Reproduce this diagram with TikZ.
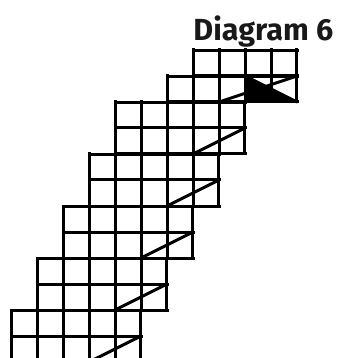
\documentclass[tikz,border=0pt]{standalone}
\usepackage{fontspec}
\setsansfont{Fira Sans}
\usepackage{tikz}
\tikzset{
  cellgrid/.style={draw=black, line width=3pt, line cap=rect, step=26pt},
  cutline/.style={draw=black, line width=3pt, line cap=round},
  ttl/.style={font=\sffamily\bfseries\fontsize{30.5}{30.5}\selectfont,
    inner sep=0pt, text=black!90}
}

\begin{document}
\begin{tikzpicture}[x=26pt, y=-26pt]

\useasboundingbox (-0.4231,-1.9231) rectangle (12.5385,11.8462);
\clip (-0.4231,-1.9231) rectangle (12.5385,11.8462);

% ─────────────────────────────────────────────────────────────────────────────
%  TITLE
% ─────────────────────────────────────────────────────────────────────────────
\node[ttl, anchor=base east] (title) at (12.4,-0.38) {Diagram 6};

% ─────────────────────────────────────────────────────────────────────────────
%  TOP BLOCK  (shaded triangle)
% ─────────────────────────────────────────────────────────────────────────────
\fill[black] (9,1) -- (9,2) -- (11,2) -- cycle;
\draw[cellgrid] (7,0) grid (11,1);
\draw[cellgrid] (6,1) grid (11,2);
\draw[cutline] (8,2) -- (11,1);
\draw[cutline] (9,1) -- (11,2);

% ─────────────────────────────────────────────────────────────────────────────
%  STAIR BLOCKS  5 x 2, one column to the left per step
% ─────────────────────────────────────────────────────────────────────────────
\foreach \k in {0,...,4}{
  \draw[cellgrid] (4-\k,2+2*\k) grid (9-\k,4+2*\k);
  \draw[cutline] (7-\k,4+2*\k) -- (9-\k,3+2*\k);
}

\end{tikzpicture}
\end{document}
